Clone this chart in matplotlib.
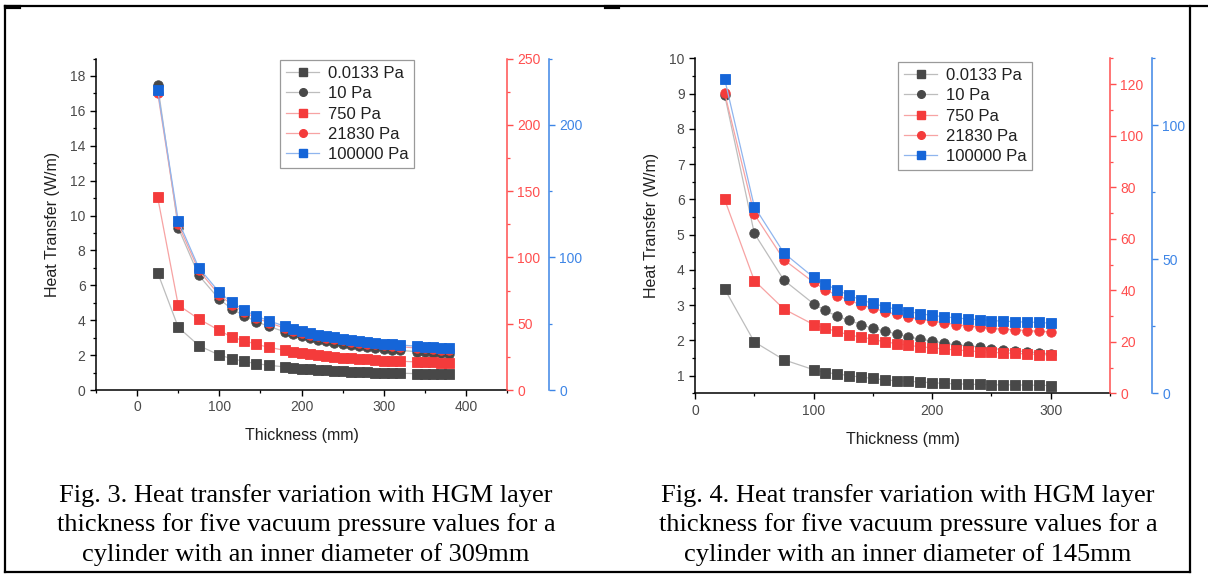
import matplotlib
matplotlib.use("Agg")
import matplotlib.pyplot as plt
from matplotlib.ticker import MultipleLocator
from matplotlib.lines import Line2D

plt.rcParams['font.family'] = ['Liberation Sans', 'DejaVu Sans']

# Données (Heat transfer en W/m)
labels = ["0.0133 Pa", "10 Pa", "750 Pa", "21830 Pa", "100000 Pa"]

# Fig. 3 : diamètre intérieur 309 mm
x_309 = [25, 50, 75, 100, 115, 130, 145, 160, 180, 190, 200, 210, 220, 230, 240,
         250, 260, 270, 280, 290, 300, 310, 320, 340, 350, 360, 370, 380]
q_309_p0 = [6.73, 3.60, 2.55, 2.00, 1.80, 1.64, 1.51, 1.42, 1.32, 1.27, 1.23, 1.19, 1.16, 1.13,
            1.10, 1.08, 1.06, 1.04, 1.02, 1.00, 0.99, 0.97, 0.96, 0.94, 0.93, 0.92, 0.91, 0.90]
q_309_p1 = [17.50, 9.30, 6.57, 5.20, 4.66, 4.26, 3.92, 3.65, 3.33, 3.19, 3.07, 2.96, 2.87, 2.78,
            2.70, 2.63, 2.56, 2.50, 2.45, 2.40, 2.35, 2.31, 2.27, 2.20, 2.17, 2.13, 2.10, 2.07]
q_309_p2 = [11.05, 4.87, 4.07, 3.42, 3.03, 2.83, 2.62, 2.45, 2.27, 2.19, 2.11, 2.05, 1.99, 1.94,
            1.89, 1.85, 1.81, 1.78, 1.75, 1.72, 1.69, 1.67, 1.65, 1.61, 1.60, 1.58, 1.57, 1.56]
q_309_p3 = [17.05, 9.50, 6.85, 5.45, 4.90, 4.47, 4.13, 3.86, 3.54, 3.41, 3.28, 3.17, 3.08, 2.99,
            2.91, 2.84, 2.77, 2.71, 2.66, 2.61, 2.56, 2.52, 2.48, 2.41, 2.38, 2.35, 2.32, 2.30]
q_309_p4 = [17.20, 9.71, 7.01, 5.60, 5.03, 4.59, 4.24, 3.97, 3.65, 3.52, 3.39, 3.28, 3.18, 3.09,
            3.01, 2.94, 2.87, 2.81, 2.76, 2.71, 2.66, 2.62, 2.58, 2.51, 2.48, 2.45, 2.42, 2.40]

# Fig. 4 : diamètre intérieur 145 mm
x_145 = [25, 50, 75, 100, 110, 120, 130, 140, 150, 160, 170, 180, 190, 200, 210, 220,
         230, 240, 250, 260, 270, 280, 290, 300]
q_145_p0 = [3.46, 1.96, 1.45, 1.17, 1.09, 1.05, 1.00, 0.96, 0.92, 0.88, 0.86, 0.84,
            0.82, 0.80, 0.78, 0.77, 0.76, 0.75, 0.74, 0.74, 0.74, 0.73, 0.73, 0.72]
q_145_p1 = [8.97, 5.04, 3.71, 3.04, 2.85, 2.68, 2.57, 2.45, 2.34, 2.27, 2.18, 2.10,
            2.04, 1.98, 1.93, 1.87, 1.85, 1.81, 1.77, 1.74, 1.71, 1.68, 1.65, 1.62]
q_145_p2 = [6.00, 3.70, 2.89, 2.45, 2.34, 2.26, 2.15, 2.10, 2.03, 1.96, 1.91, 1.86,
            1.82, 1.79, 1.76, 1.73, 1.71, 1.68, 1.66, 1.65, 1.63, 1.62, 1.60, 1.59]
q_145_p3 = [9.02, 5.58, 4.29, 3.65, 3.44, 3.27, 3.14, 3.01, 2.91, 2.82, 2.74, 2.66,
            2.61, 2.55, 2.50, 2.45, 2.41, 2.38, 2.34, 2.32, 2.30, 2.28, 2.26, 2.24]
q_145_p4 = [9.42, 5.80, 4.48, 3.79, 3.60, 3.43, 3.28, 3.15, 3.05, 2.96, 2.88, 2.82,
            2.76, 2.71, 2.67, 2.64, 2.61, 2.59, 2.56, 2.55, 2.53, 2.52, 2.51, 2.49]

captions = [
    "Fig. 3. Heat transfer variation with HGM layer\nthickness for five vacuum pressure values for a\ncylinder with an inner diameter of 309mm",
    "Fig. 4. Heat transfer variation with HGM layer\nthickness for five vacuum pressure values for a\ncylinder with an inner diameter of 145mm",
]

# styles des séries : (marqueur, couleur marqueur, couleur ligne)
styles = [
    ('s', '#484848', '#bdbdbd'),
    ('o', '#484848', '#bdbdbd'),
    ('s', '#f43b3b', '#f7a3a3'),
    ('o', '#f43b3b', '#f7a3a3'),
    ('s', '#1565d8', '#8fb5ee'),
]
RED_AX = '#ff4f4f'
BLUE_AX = '#3d85e6'
GREY_TXT = '#4a4a4a'


def trace_graphique(fig, rect, x, series, xlim, xmaj, ylim, ymaj,
                    red_lim, red_maj, blue_lim, blue_maj, leg_pos):
    ax = fig.add_axes(rect)
    for (m, mc, lc), y, lab in zip(styles, series, labels):
        ax.plot(x, y, color=lc, lw=0.9, marker=m, ms=6.8, mfc=mc, mec=mc,
                mew=0.6, label=lab)
    ax.set_xlim(*xlim)
    ax.set_ylim(*ylim)
    ax.xaxis.set_major_locator(MultipleLocator(xmaj))
    ax.xaxis.set_minor_locator(MultipleLocator(xmaj / 2))
    ax.yaxis.set_major_locator(MultipleLocator(ymaj))
    ax.yaxis.set_minor_locator(MultipleLocator(ymaj / 2))
    ax.spines['top'].set_visible(False)
    ax.spines['right'].set_visible(False)
    for s in ['left', 'bottom']:
        ax.spines[s].set_linewidth(1.1)
    ax.tick_params(which='major', length=4, width=1.0, labelsize=10,
                   labelcolor=GREY_TXT, direction='out')
    ax.tick_params(which='minor', length=2.5, width=0.9)
    ax.set_xlabel("Thickness (mm)", fontsize=11.5, color='#202020', labelpad=10)
    ax.set_ylabel("Heat Transfer (W/m)", fontsize=11.5, color='#202020', labelpad=7)

    # axe rouge
    ax_r = ax.twinx()
    ax_r.set_ylim(*red_lim)
    ax_r.yaxis.set_major_locator(MultipleLocator(red_maj))
    ax_r.yaxis.set_minor_locator(MultipleLocator(red_maj / 2))
    # axe bleu
    ax_b = ax.twinx()
    ax_b.spines['right'].set_position(('outward', 30))
    ax_b.set_ylim(*blue_lim)
    ax_b.yaxis.set_major_locator(MultipleLocator(blue_maj))
    ax_b.yaxis.set_minor_locator(MultipleLocator(blue_maj / 2))
    for a, c in [(ax_r, RED_AX), (ax_b, BLUE_AX)]:
        for s in ['left', 'top', 'bottom']:
            a.spines[s].set_visible(False)
        a.spines['right'].set_color(c)
        a.spines['right'].set_linewidth(1.1)
        a.tick_params(axis='y', which='major', length=4, width=1.0, colors=c,
                      labelsize=10)
        a.tick_params(axis='y', which='minor', length=2.5, width=0.9, colors=c)

    handles = [Line2D([], [], color=lc, lw=0.9, marker=m, ms=5.5, mfc=mc, mec=mc)
               for m, mc, lc in styles]
    leg = fig.legend(handles, labels, loc='upper left', bbox_to_anchor=leg_pos,
                     bbox_transform=fig.transFigure, fontsize=12, frameon=True,
                     fancybox=False, edgecolor='#9a9a9a', framealpha=1,
                     borderpad=0.35, labelspacing=0.32, handlelength=2.0,
                     handletextpad=0.5, borderaxespad=0)
    leg.get_frame().set_linewidth(0.9)
    for t in leg.get_texts():
        t.set_color('#202020')
    return ax


W, H = 1208, 578
fig = plt.figure(figsize=(W / 100, H / 100), dpi=100)

trace_graphique(fig, [96 / W, 1 - 390 / H, 411 / W, 331.5 / H], x_309,
                [q_309_p0, q_309_p1, q_309_p2, q_309_p3, q_309_p4],
                (-50, 450), 100, (0, 19), 2, (0, 250), 50, (0, 250), 100,
                (280 / W, 1 - 60 / H))
trace_graphique(fig, [695 / W, 1 - 393.3 / H, 415 / W, 334.8 / H], x_145,
                [q_145_p0, q_145_p1, q_145_p2, q_145_p3, q_145_p4],
                (0, 350), 100, (0.5, 10), 1, (0, 130), 20, (0, 125), 50,
                (898 / W, 1 - 62 / H))

# légendes des figures (texte du document)
fig.text(306 / W, 1 - 525 / H, captions[0], ha='center', va='center',
         family='Liberation Serif', fontsize=19, linespacing=1.36)
fig.text(908 / W, 1 - 525 / H, captions[1], ha='center', va='center',
         family='Liberation Serif', fontsize=19, linespacing=1.36)

# cadre du document
cadre = dict(color='black', lw=1.6, transform=fig.transFigure, clip_on=False)
fig.add_artist(Line2D([5 / W, 5 / W], [1 - 6 / H, 1 - 572 / H], **cadre))
fig.add_artist(Line2D([5 / W, 1], [1 - 6 / H, 1 - 6 / H], **cadre))
fig.add_artist(Line2D([5 / W, 1190 / W], [1 - 572 / H, 1 - 572 / H], **cadre))
fig.add_artist(Line2D([1190 / W, 1190 / W], [1 - 6 / H, 1 - 572 / H], **cadre))
marque = dict(color='black', lw=3, transform=fig.transFigure, clip_on=False)
fig.add_artist(Line2D([6 / W, 19 / W], [1 - 7 / H, 1 - 7 / H], **marque))
fig.add_artist(Line2D([606 / W, 618 / W], [1 - 7 / H, 1 - 7 / H], **marque))

fig.savefig("out.png", dpi=100)
